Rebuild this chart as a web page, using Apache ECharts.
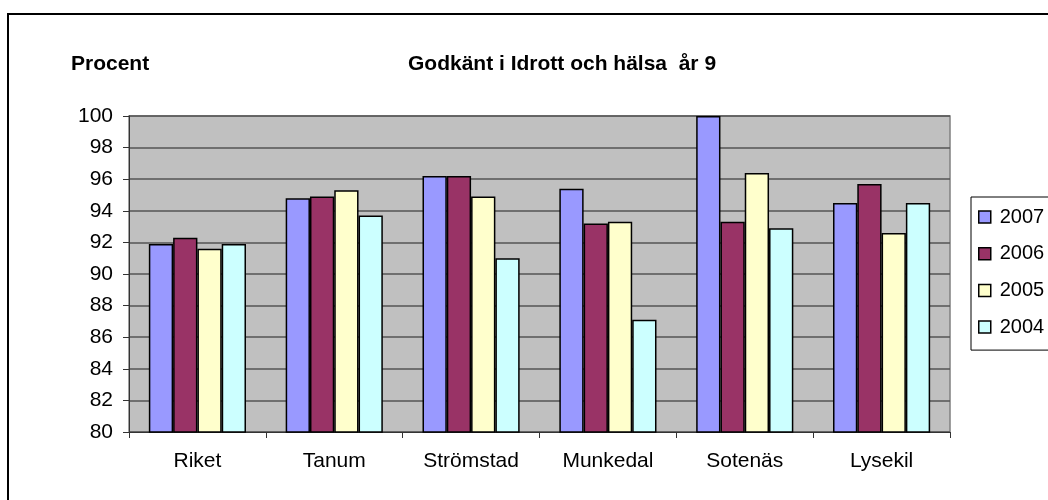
<!DOCTYPE html>
<html>
<head>
<meta charset="utf-8">
<script src="https://cdn.jsdelivr.net/npm/echarts@6/dist/echarts.min.js"></script>
<style>
  html, body { margin: 0; padding: 0; background: #fff; }
  #main { width: 1048px; height: 500px; }
</style>
</head>
<body>
<div id="main"></div>
<script>
const categories = ['Riket', 'Tanum', 'Strömstad', 'Munkedal', 'Sotenäs', 'Lysekil'];
const years = ['2007', '2006', '2005', '2004'];
const v2007 = [91.9, 94.8, 96.2, 95.4, 100, 94.5];
const v2006 = [92.3, 94.9, 96.2, 93.2, 93.3, 95.7];
const v2005 = [91.6, 95.3, 94.9, 93.3, 96.4, 92.6];
const v2004 = [91.9, 93.7, 91.0, 87.1, 92.9, 94.5];
const colors = ['#9999ff', '#993366', '#ffffcc', '#ccffff'];

const allValues = [v2007, v2006, v2005, v2004];
const font = 'Liberation Sans, Arial, sans-serif';

var myChart = echarts.init(document.getElementById('main'));
var option = {
  animation: false,
  textStyle: { fontFamily: font },
  graphic: [
    {
      type: 'rect',
      shape: { x: 8, y: 14, width: 1100, height: 600 },
      style: { fill: null, stroke: '#000', lineWidth: 2 }
    },
    {
      type: 'text', left: 71, top: 54,
      style: { text: 'Procent', font: 'bold 21px ' + font, fill: '#000' }
    },
    {
      type: 'text', left: 408, top: 54,
      style: { text: 'Godkänt i Idrott och hälsa  år 9', font: 'bold 21px ' + font, fill: '#000' }
    }
  ],
  legend: {
    orient: 'vertical',
    left: 971,
    top: 197,
    padding: [10, 80, 13, 7],
    itemGap: 16.7,
    itemWidth: 12,
    itemHeight: 12,
    icon: 'rect',
    borderColor: '#000',
    borderWidth: 1,
    textStyle: { fontSize: 20, color: '#000', fontFamily: font, padding: [0, 0, 0, 4] },
    itemStyle: { borderColor: '#000', borderWidth: 1.5 },
    data: years
  },
  grid: {
    left: 129, right: 98, top: 116, bottom: 68,
    show: true,
    backgroundColor: '#c0c0c0',
    borderColor: '#808080',
    borderWidth: 1.5
  },
  xAxis: {
    type: 'category',
    data: categories,
    axisLine: { lineStyle: { color: '#333', width: 1 } },
    axisTick: { show: true, length: 6, lineStyle: { color: '#333' } },
    axisLabel: { color: '#000', fontSize: 21, margin: 19, fontFamily: font }
  },
  yAxis: {
    type: 'value',
    min: 80, max: 100, interval: 2,
    axisLine: { show: true, lineStyle: { color: '#333', width: 1 } },
    axisTick: { show: true, length: 6, lineStyle: { color: '#333' } },
    axisLabel: { color: '#000', fontSize: 21, margin: 16, fontFamily: font },
    splitLine: { lineStyle: { color: '#555', width: 1.5 } }
  },
  series: years.map((y, i) => ({
    name: y,
    type: 'bar',
    data: allValues[i],
    barGap: '0%',
    barCategoryGap: '29%',
    itemStyle: { color: colors[i], borderColor: '#000', borderWidth: 1.5 }
  }))
};
myChart.setOption(option);
</script>
</body>
</html>
